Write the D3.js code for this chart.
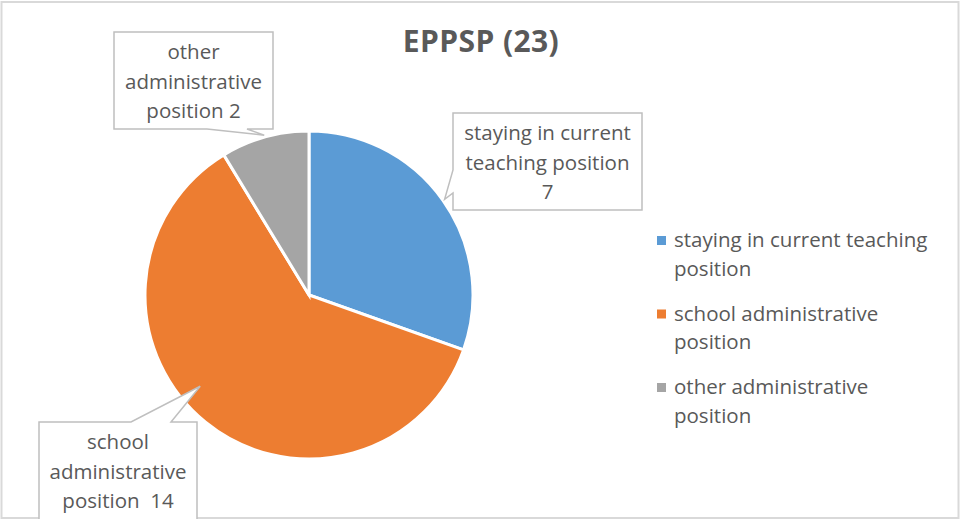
<!DOCTYPE html>
<html>
<head>
<meta charset="utf-8">
<script src="https://cdn.jsdelivr.net/npm/d3@7"></script>
<style>
  body { margin: 0; background: #fff; }
  svg { display: block; }
  text { font-family: "Open Sans", Lato, sans-serif; fill: #595959; white-space: pre; }
</style>
</head>
<body>
<svg class="chart" width="961" height="519"></svg>
<script>
// data
const title = "EPPSP (23)";
const categories = [
    "staying in current teaching position",
    "school administrative position",
    "other administrative position"
];
const values = [7, 14, 2];
const colors = ["#5b9bd5", "#ed7d31", "#a5a5a5"];
const legendLines = [
    ["staying in current teaching", "position"],
    ["school administrative", "position"],
    ["other administrative", "position"]
];
const calloutLines = [
    ["staying in current", "teaching position", "7"],
    ["school", "administrative", "position  14"],
    ["other", "administrative", "position 2"]
];

function renderPie()
{
    const width = 961;
    const height = 519;
    const cx = 309, cy = 295, radius = 164;
    const svg = d3.select('.chart');

    // outer frame
    svg.append('rect')
        .attr('x', 1.5).attr('y', 2)
        .attr('width', width - 4).attr('height', height - 3)
        .attr('fill', 'none')
        .attr('stroke', '#d9d9d9')
        .attr('stroke-width', 2);

    svg.append('text')
        .attr('x', 481)
        .attr('y', 52)
        .attr('text-anchor', 'middle')
        .style('font-size', '30px')
        .style('font-weight', 'bold')
        .style('letter-spacing', '0.4px')
        .text(title);

    const pie = d3.pie().sort(null).value(d => d);
    const arcs = pie(values);
    const arc = d3.arc().innerRadius(0).outerRadius(radius);

    const holder = svg.append('g')
        .attr('transform', `translate(${cx}, ${cy})`);

    holder.selectAll('path')
        .data(arcs)
        .enter()
        .append('path')
        .attr('d', arc)
        .attr('fill', (d, i) => colors[i])
        .attr('stroke', '#fff')
        .attr('stroke-width', 3);

    // callouts: box + pointer side, tip taken from slice angle
    const callouts = [
        {box: [453, 113, 642, 210], side: 'left', base: [170, 193], da: 0, r: 166},
        {box: [39, 422, 197, 530], side: 'top', base: [131, 171], da: 0.19, r: 142},
        {box: [114, 32, 273, 129], side: 'bottom', base: [207, 247], da: 0, r: 166}
    ];

    callouts.forEach((c, i) => {
        const a = (arcs[i].startAngle + arcs[i].endAngle) / 2 + c.da;
        const tx = cx + c.r * Math.sin(a);
        const ty = cy - c.r * Math.cos(a);
        const [x0, y0, x1, y1] = c.box;
        let pts;
        if (c.side == 'left') {
            pts = [[x0, y0], [x1, y0], [x1, y1], [x0, y1], [x0, c.base[1]], [tx, ty], [x0, c.base[0]]];
        } else if (c.side == 'top') {
            pts = [[x0, y0], [c.base[0], y0], [tx, ty], [c.base[1], y0], [x1, y0], [x1, y1], [x0, y1]];
        } else {
            pts = [[x0, y0], [x1, y0], [x1, y1], [c.base[1], y1], [tx, ty], [c.base[0], y1], [x0, y1]];
        }
        svg.append('path')
            .attr('d', d3.line()(pts) + 'Z')
            .attr('fill', '#fff')
            .attr('stroke', '#bfbfbf')
            .attr('stroke-width', 1.5);

        const midX = (x0 + x1) / 2;
        const t = svg.append('text')
            .attr('text-anchor', 'middle')
            .style('font-size', '20.5px');
        calloutLines[i].forEach((line, j) => {
            t.append('tspan')
                .attr('x', midX)
                .attr('y', y0 + 27 + j * 29.5)
                .text(line);
        });
    });

    // legend
    const legend = svg.append('g')
        .attr('class', 'legend')
        .attr('transform', 'translate(657, 241)');

    categories.forEach((cat, i) => {
        const item = legend.append('g')
            .attr('transform', `translate(0, ${i * 73.5})`);
        item.append('rect')
            .attr('x', 0).attr('y', -5)
            .attr('width', 9).attr('height', 9)
            .attr('fill', colors[i]);
        const t = item.append('text')
            .style('font-size', '20.5px');
        legendLines[i].forEach((line, j) => {
            t.append('tspan')
                .attr('x', 17)
                .attr('y', 6 + j * 28.5)
                .text(line);
        });
    });
}

renderPie();
</script>
</body>
</html>
